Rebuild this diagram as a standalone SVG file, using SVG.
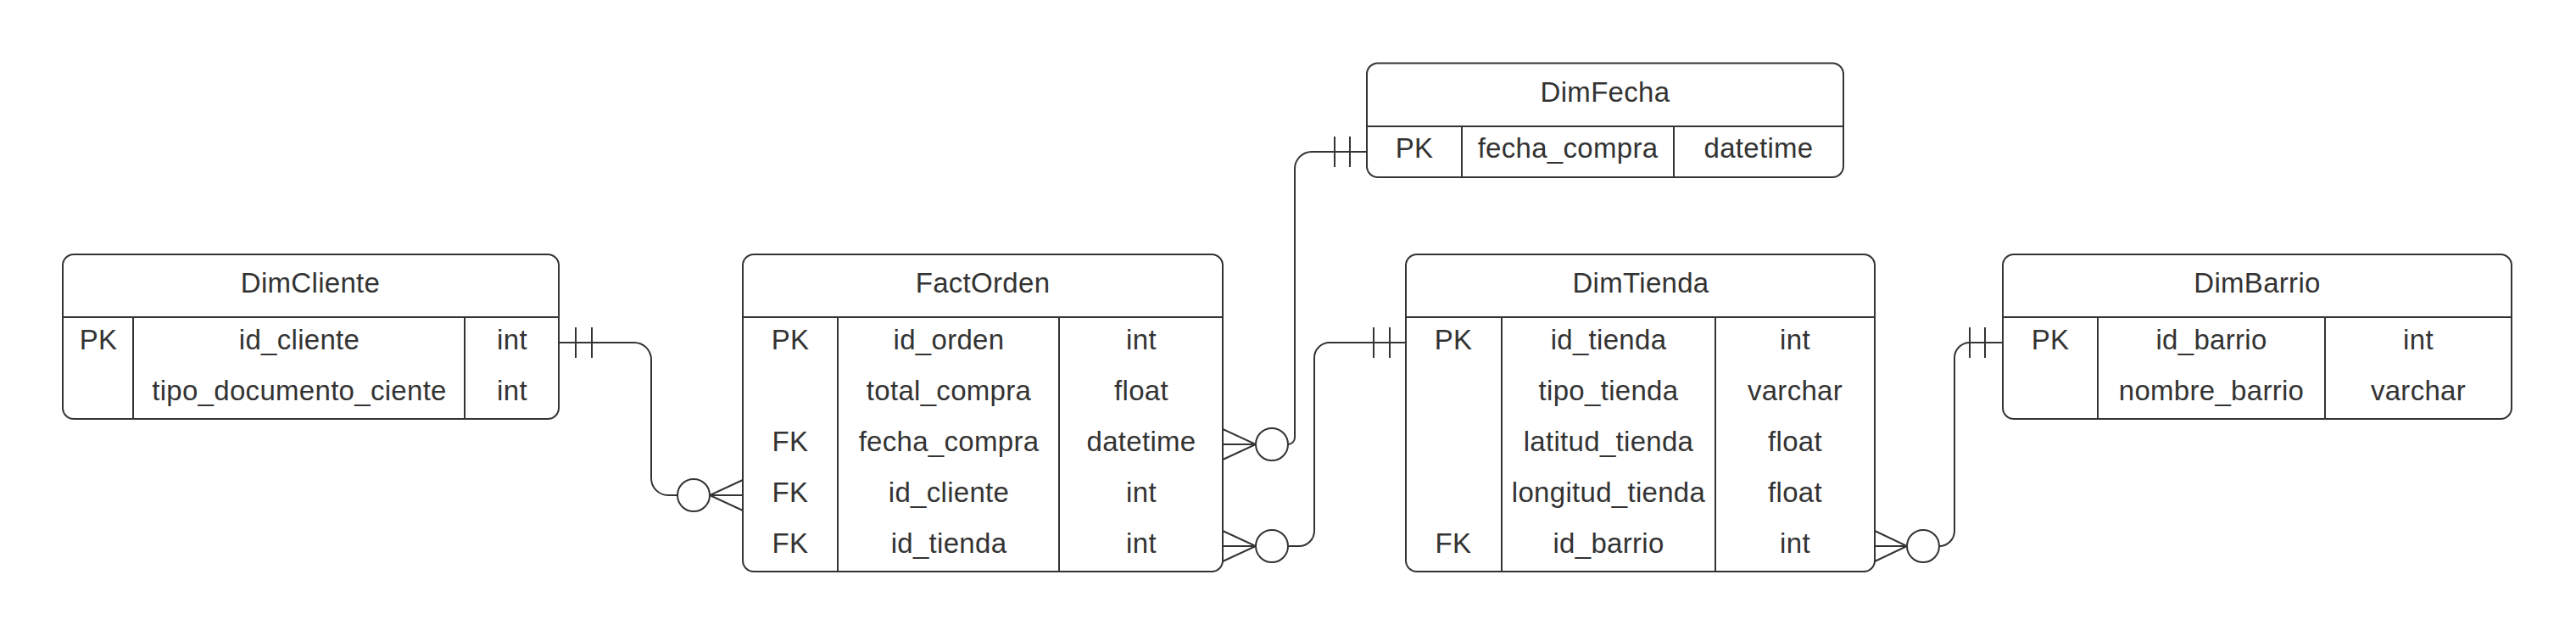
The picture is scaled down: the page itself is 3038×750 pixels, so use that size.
<svg xmlns="http://www.w3.org/2000/svg" width="3038" height="750" viewBox="0 0 3038 750">
<style>
.box{fill:#fff;stroke:#333;stroke-width:2}
.ln{fill:none;stroke:#333;stroke-width:2}
.t{font-family:"Liberation Sans",Arial,sans-serif;font-size:33px;fill:#333;text-anchor:middle;letter-spacing:0.3px}
.c{fill:#fff;stroke:#333;stroke-width:2}
</style>
<rect width="3038" height="750" fill="#fff"/>

<g id="connectors">
  <!-- DimCliente -> FactOrden -->
  <path class="ln" d="M659,404 H748 A20,20 0 0 1 768,424 V564 A20,20 0 0 0 788,584 H799"/>
  <path class="ln" d="M679,386 V422 M698,386 V422"/>
  <path class="ln" d="M876,566 L837,584 L876,602 M837,584 H876"/>
  <circle class="c" cx="818" cy="584" r="19"/>
  <!-- FactOrden fecha_compra -> DimFecha -->
  <path class="ln" d="M1519,524 A8,8 0 0 0 1527,516 V199 A20,20 0 0 1 1547,179 H1612"/>
  <path class="ln" d="M1574,161 V197 M1592,161 V197"/>
  <path class="ln" d="M1442,506 L1481,524 L1442,542 M1481,524 H1442"/>
  <circle class="c" cx="1500" cy="524" r="19"/>
  <!-- FactOrden id_tienda -> DimTienda -->
  <path class="ln" d="M1519,644 H1532 A18,18 0 0 0 1550,626 V422 A18,18 0 0 1 1568,404 H1658"/>
  <path class="ln" d="M1620,386 V422 M1639,386 V422"/>
  <path class="ln" d="M1442,626 L1481,644 L1442,662 M1481,644 H1442"/>
  <circle class="c" cx="1500" cy="644" r="19"/>
  <!-- DimTienda id_barrio -> DimBarrio -->
  <path class="ln" d="M2287,644 A18,18 0 0 0 2305,626 V422 A18,18 0 0 1 2323,404 H2362"/>
  <path class="ln" d="M2323,386 V422 M2341,386 V422"/>
  <path class="ln" d="M2211,626 L2249,644 L2211,662 M2249,644 H2211"/>
  <circle class="c" cx="2268" cy="644" r="19"/>
</g>

<g id="DimCliente">
  <rect class="box" x="74" y="300" width="585" height="194" rx="13"/>
  <path class="ln" d="M74,374 H659 M157,374 V494 M548,374 V494"/>
  <text class="t" x="366" y="345">DimCliente</text>
  <text class="t" x="116" y="412">PK</text>
  <text class="t" x="353" y="412">id_cliente</text>
  <text class="t" x="604" y="412">int</text>
  <text class="t" x="353" y="472">tipo_documento_ciente</text>
  <text class="t" x="604" y="472">int</text>
</g>

<g id="FactOrden">
  <rect class="box" x="876" y="300" width="566" height="374" rx="13"/>
  <path class="ln" d="M876,374 H1442 M988,374 V674 M1249,374 V674"/>
  <text class="t" x="1159" y="345">FactOrden</text>
  <text class="t" x="932" y="412">PK</text>
  <text class="t" x="1119" y="412">id_orden</text>
  <text class="t" x="1346" y="412">int</text>
  <text class="t" x="1119" y="472">total_compra</text>
  <text class="t" x="1346" y="472">float</text>
  <text class="t" x="932" y="532">FK</text>
  <text class="t" x="1119" y="532">fecha_compra</text>
  <text class="t" x="1346" y="532">datetime</text>
  <text class="t" x="932" y="592">FK</text>
  <text class="t" x="1119" y="592">id_cliente</text>
  <text class="t" x="1346" y="592">int</text>
  <text class="t" x="932" y="652">FK</text>
  <text class="t" x="1119" y="652">id_tienda</text>
  <text class="t" x="1346" y="652">int</text>
</g>

<g id="DimFecha">
  <rect class="box" x="1612" y="74.5" width="562" height="134.5" rx="13"/>
  <path class="ln" d="M1612,149 H2174 M1724,149 V209 M1974,149 V209"/>
  <text class="t" x="1893" y="120">DimFecha</text>
  <text class="t" x="1668" y="186">PK</text>
  <text class="t" x="1849" y="186">fecha_compra</text>
  <text class="t" x="2074" y="186">datetime</text>
</g>

<g id="DimTienda">
  <rect class="box" x="1658" y="300" width="553" height="374" rx="13"/>
  <path class="ln" d="M1658,374 H2211 M1771,374 V674 M2023,374 V674"/>
  <text class="t" x="1935" y="345">DimTienda</text>
  <text class="t" x="1714" y="412">PK</text>
  <text class="t" x="1897" y="412">id_tienda</text>
  <text class="t" x="2117" y="412">int</text>
  <text class="t" x="1897" y="472">tipo_tienda</text>
  <text class="t" x="2117" y="472">varchar</text>
  <text class="t" x="1897" y="532">latitud_tienda</text>
  <text class="t" x="2117" y="532">float</text>
  <text class="t" x="1897" y="592">longitud_tienda</text>
  <text class="t" x="2117" y="592">float</text>
  <text class="t" x="1714" y="652">FK</text>
  <text class="t" x="1897" y="652">id_barrio</text>
  <text class="t" x="2117" y="652">int</text>
</g>

<g id="DimBarrio">
  <rect class="box" x="2362" y="300" width="600" height="194" rx="13"/>
  <path class="ln" d="M2362,374 H2962 M2474,374 V494 M2742,374 V494"/>
  <text class="t" x="2662" y="345">DimBarrio</text>
  <text class="t" x="2418" y="412">PK</text>
  <text class="t" x="2608" y="412">id_barrio</text>
  <text class="t" x="2852" y="412">int</text>
  <text class="t" x="2608" y="472">nombre_barrio</text>
  <text class="t" x="2852" y="472">varchar</text>
</g>
</svg>
